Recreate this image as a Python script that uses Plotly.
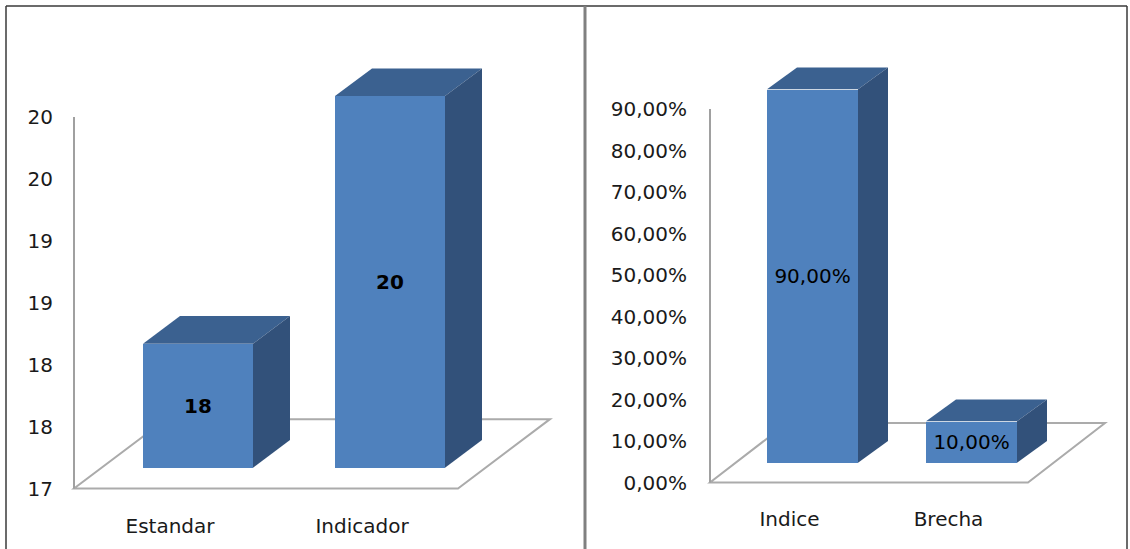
import plotly.graph_objects as go

W, H = 1130, 549

# ---- data -------------------------------------------------------------
left_categories = ["Estandar", "Indicador"]
left_values = [18, 20]
left_ticks = [17, 17.5, 18, 18.5, 19, 19.5, 20]

right_categories = ["Indice", "Brecha"]
right_values = [0.90, 0.10]
right_ticks = [0.0, 0.1, 0.2, 0.3, 0.4, 0.5, 0.6, 0.7, 0.8, 0.9]

# ---- styling ------------------------------------------------------------
FONT = "DejaVu Sans"
FRONT = "#4F81BD"
TOP = "#3B6190"
SIDE = "#32517A"
FLOOR_LINE = "#ABABAB"

fig = go.Figure()
shapes = []
layout_axes = {}


def px_x(p):
    return p / W


def px_y(p):
    return 1 - p / H


def build_panel(idx, categories, values, ticks, tickformat, texts, bold,
                floor_x0, floor_x1, y_lo, y_hi, front_shift, bar_px,
                face_depth, floor_depth, box, standoff, xstandoff):
    """Excel-style 3D column chart: a wall frame (axis + floor) and a
    front frame (the columns), offset to suggest depth.
    Depth vectors are given in screen pixels (right, up)."""
    n = len(categories)
    vmin, vmax = ticks[0], ticks[-1]
    sx = (floor_x1 - floor_x0) / n
    sy = (y_lo - y_hi) / (vmax - vmin)
    bx0, bx1, by0, by1 = box

    def ranges(ox, oy):
        xr = [-0.5 + (bx0 - ox) / sx, -0.5 + (bx1 - ox) / sx]
        yr = [vmin + (oy - by1) / sy, vmin + (oy - by0) / sy]
        return xr, yr

    wall_xr, wall_yr = ranges(floor_x0, y_lo)
    front_xr, front_yr = ranges(floor_x0 + front_shift[0], y_lo - front_shift[1])

    a_w = 2 * idx - 1
    a_f = 2 * idx
    wx = "x" if a_w == 1 else f"x{a_w}"
    wy = "y" if a_w == 1 else f"y{a_w}"
    fx, fy = f"x{a_f}", f"y{a_f}"
    kx_w = "xaxis" if a_w == 1 else f"xaxis{a_w}"
    ky_w = "yaxis" if a_w == 1 else f"yaxis{a_w}"

    dom_x = [px_x(bx0), px_x(bx1)]
    dom_y = [px_y(by1), px_y(by0)]
    tickfont = dict(family=FONT, size=20, color="#1a1a1a")

    layout_axes[kx_w] = dict(domain=dom_x, range=wall_xr, anchor=wy,
                             tickmode="array", tickvals=list(range(n)),
                             ticktext=categories, showgrid=False,
                             zeroline=False, showline=False, ticks="",
                             tickfont=tickfont, ticklabelstandoff=xstandoff,
                             fixedrange=True)
    layout_axes[ky_w] = dict(domain=dom_y, range=wall_yr, anchor=wx,
                             tickmode="array", tickvals=ticks,
                             tickformat=tickformat, showgrid=False,
                             zeroline=False, showline=False, ticks="",
                             tickfont=tickfont, ticklabelstandoff=standoff,
                             fixedrange=True)
    layout_axes[f"xaxis{a_f}"] = dict(domain=dom_x, range=front_xr, anchor=fy,
                                      overlaying=wx, visible=False,
                                      fixedrange=True)
    layout_axes[f"yaxis{a_f}"] = dict(domain=dom_y, range=front_yr, anchor=fx,
                                      overlaying=wy, visible=False,
                                      fixedrange=True)

    # floor parallelogram and value-axis line (wall frame)
    fdx = floor_depth[0] / sx
    fdy = floor_depth[1] / sy
    x_left, x_right = -0.5, n - 0.5
    shapes.append(dict(
        type="path", xref=wx, yref=wy, layer="below",
        path=(f"M {x_left},{vmin} L {x_right},{vmin} "
              f"L {x_right + fdx},{vmin + fdy} L {x_left + fdx},{vmin + fdy} Z"),
        line=dict(color=FLOOR_LINE, width=2), fillcolor="rgba(0,0,0,0)"))
    shapes.append(dict(type="line", xref=wx, yref=wy, layer="below",
                       x0=x_left, x1=x_left, y0=vmin, y1=vmax,
                       line=dict(color="#A0A0A0", width=2)))

    # front faces of the columns
    bw = bar_px / sx
    xs = list(range(n))
    fig.add_trace(go.Bar(
        x=xs, y=[v - vmin for v in values], base=vmin, width=bw,
        marker=dict(color=FRONT, line=dict(width=0)),
        text=texts, textposition="inside", insidetextanchor="middle",
        textangle=0,
        textfont=dict(family=FONT, size=20, color="#000000",
                      weight="bold" if bold else "normal"),
        hoverinfo="skip", showlegend=False, xaxis=fx, yaxis=fy))

    # top and side faces
    ddx = face_depth[0] / sx
    ddy = face_depth[1] / sy
    for c, v in zip(xs, values):
        l, r = c - bw / 2, c + bw / 2
        shapes.append(dict(
            type="path", xref=fx, yref=fy, layer="above",
            path=(f"M {l},{v} L {r},{v} L {r + ddx},{v + ddy} "
                  f"L {l + ddx},{v + ddy} Z"),
            fillcolor=TOP, line=dict(width=0)))
        shapes.append(dict(
            type="path", xref=fx, yref=fy, layer="above",
            path=(f"M {r},{vmin} L {r},{v} L {r + ddx},{v + ddy} "
                  f"L {r + ddx},{vmin + ddy} Z"),
            fillcolor=SIDE, line=dict(width=0)))


build_panel(1, left_categories, left_values, left_ticks, ".0f",
            [f"{v:.0f}" for v in left_values], True,
            floor_x0=74, floor_x1=458, y_lo=493, y_hi=118,
            front_shift=(28, 21), bar_px=110,
            face_depth=(37, 28), floor_depth=(92, 70),
            box=(68, 580, 40, 500), standoff=14, xstandoff=17)

build_panel(2, right_categories, right_values, right_ticks, ".2%",
            [f"{v * 100:.2f}%".replace(".", ",") for v in right_values], False,
            floor_x0=710, floor_x1=1028, y_lo=487, y_hi=110,
            front_shift=(23, 20), bar_px=91,
            face_depth=(30, 22), floor_depth=(77, 60),
            box=(704, 1125, 40, 495), standoff=16, xstandoff=15)

# outer frame and panel divider
shapes.append(dict(type="line", xref="paper", yref="paper",
                   x0=px_x(6), x1=px_x(6), y0=px_y(6), y1=px_y(560),
                   line=dict(color="#3a3a3a", width=1.5)))
shapes.append(dict(type="line", xref="paper", yref="paper",
                   x0=px_x(6), x1=px_x(1127), y0=px_y(6), y1=px_y(6),
                   line=dict(color="#3a3a3a", width=1.5)))
shapes.append(dict(type="line", xref="paper", yref="paper",
                   x0=px_x(1127), x1=px_x(1127), y0=px_y(6), y1=px_y(560),
                   line=dict(color="#3a3a3a", width=1.5)))
shapes.append(dict(type="line", xref="paper", yref="paper",
                   x0=px_x(585), x1=px_x(585), y0=px_y(6), y1=px_y(560),
                   line=dict(color="#808080", width=3)))

fig.update_layout(
    width=W, height=H, autosize=False,
    margin=dict(l=0, r=0, t=0, b=0, pad=0),
    paper_bgcolor="white", plot_bgcolor="rgba(0,0,0,0)",
    separators=",.", bargap=0, showlegend=False,
    font=dict(family=FONT, size=20, color="#1a1a1a"),
    shapes=shapes,
    **layout_axes,
)

fig.write_html("out.html", config={"displayModeBar": False})
